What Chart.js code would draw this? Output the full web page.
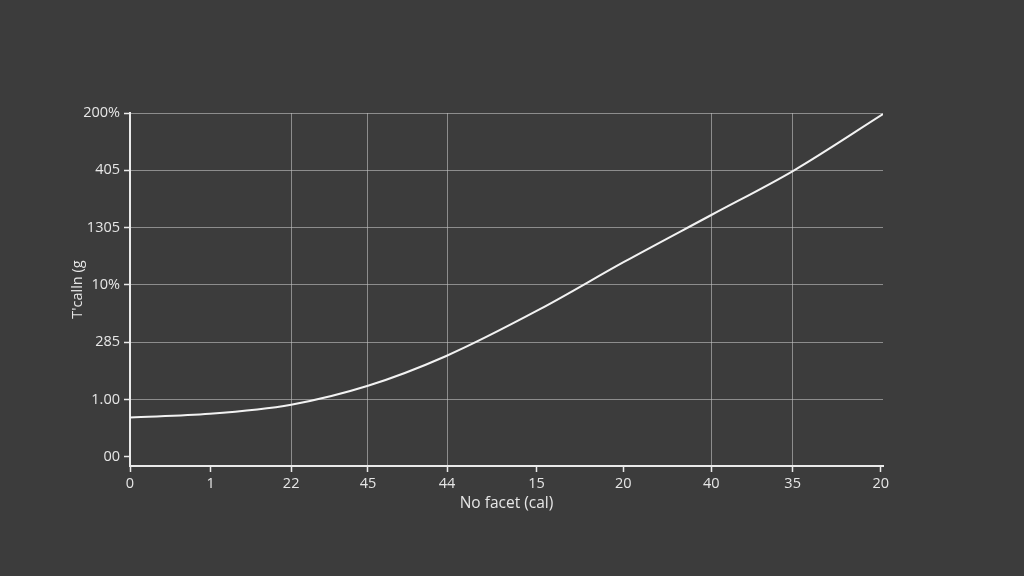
<!DOCTYPE html>
<html>
<head>
<meta charset="utf-8">
<script src="https://cdn.jsdelivr.net/npm/chart.js@4"></script>
<style>
  html, body { margin: 0; padding: 0; background: #3c3c3c; }
  #chart { display: block; }
</style>
</head>
<body>
<canvas id="chart" width="1024" height="576"></canvas>
<script>
// x ticks (odd labels, uneven spacing, as in the picture)
var xTickVals = [0, 10.7, 21.4, 31.6, 42.1, 54.0, 65.5, 77.2, 88.0, 99.7];
var xTickLabels = ['0', '1', '22', '45', '44', '15', '20', '40', '35', '20'];

// y ticks, bottom to top
var yTickVals = [0, 1, 2, 3, 4, 5, 6];
var yTickLabels = ['00', '1.00', '285', '10%', '1305', '405', '200%'];

// the curve
var curveX = [0, 10.6, 21.4, 31.6, 42.0, 54.5, 65.6, 77.2, 88.2, 100];
var curveY = [0.686, 0.75, 0.91, 1.24, 1.76, 2.58, 3.40, 4.22, 5.0, 5.98];

var xGridAt = [2, 3, 4, 7, 8];

var pts = [];
for (var i = 0; i < curveX.length; i++) {
    pts.push({x: curveX[i], y: curveY[i]});
}

var textColor = '#e6e6e6';
var gridColor = 'rgba(195,195,195,0.6)';
var axisColor = '#eaeaea';

const data = {
    datasets: [{
        label: 'curve',
        data: pts,
        borderColor: '#f2f2f2',
        borderWidth: 2,
        pointRadius: 0,
        fill: false,
        cubicInterpolationMode: 'monotone'
    }]
};

const config = {
    type: 'line',
    data: data,
    options: {
        responsive: false,
        animation: false,
        devicePixelRatio: 1,
        layout: {
            padding: {left: 66, right: 141, top: 113, bottom: 60}
        },
        plugins: {
            legend: {display: false},
            tooltip: {enabled: false}
        },
        scales: {
            x: {
                type: 'linear',
                min: 0,
                max: 100,
                afterBuildTicks: (scale) => {
                    scale.ticks = xTickVals.map(v => ({value: v}));
                },
                afterFit: (scale) => { scale.height = 50; },
                grid: {
                    color: (ctx) => xGridAt.indexOf(ctx.index) >= 0 ? gridColor : 'rgba(0,0,0,0)',
                    tickColor: axisColor,
                    tickLength: 6,
                    lineWidth: 1,
                    tickWidth: 1.5
                },
                border: {color: axisColor, width: 2},
                ticks: {
                    autoSkip: false,
                    maxRotation: 0,
                    padding: 3,
                    color: textColor,
                    font: {family: 'Open Sans', size: 14.5},
                    callback: (value, index) => xTickLabels[index]
                },
                title: {
                    display: true,
                    text: 'No facet (cal)',
                    color: textColor,
                    font: {family: 'Open Sans', size: 15.5},
                    padding: {top: 2, bottom: 3}
                }
            },
            y: {
                type: 'linear',
                min: -0.16,
                max: 6,
                afterBuildTicks: (scale) => {
                    scale.ticks = yTickVals.map(v => ({value: v}));
                },
                afterFit: (scale) => { scale.width = 64; },
                grid: {
                    color: (ctx) => ctx.tick && ctx.tick.value === 0 ? 'rgba(0,0,0,0)' : gridColor,
                    tickColor: axisColor,
                    tickLength: 6,
                    lineWidth: 1,
                    tickWidth: 1.5
                },
                border: {color: axisColor, width: 2},
                ticks: {
                    autoSkip: false,
                    padding: 4,
                    color: textColor,
                    font: {family: 'Open Sans', size: 14.5},
                    callback: (value, index) => yTickLabels[index]
                },
                title: {
                    display: true,
                    text: "T'calln (g",
                    color: textColor,
                    font: {family: 'Open Sans', size: 14.5},
                    padding: {top: 3, bottom: 2}
                }
            }
        }
    }
};

const myChart = new Chart(document.getElementById('chart'), config);
</script>
</body>
</html>
